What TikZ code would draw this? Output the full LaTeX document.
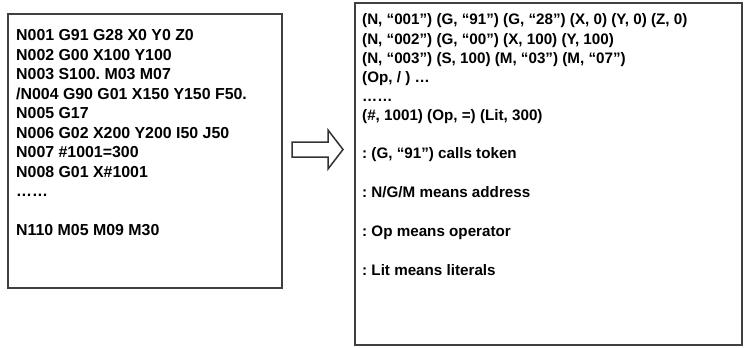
\documentclass[tikz,border=0pt]{standalone}
\usepackage{fontspec}
\setmainfont{Liberation Sans}
\frenchspacing
\begin{document}
\begin{tikzpicture}[x=1pt,y=-1pt,
  box/.style={draw=black!75,line width=1.3pt,fill=white,inner sep=0pt},
  code/.style={anchor=base west,inner sep=0pt,font=\fontsize{15.9}{15.9}\selectfont\bfseries},
  tok/.style={anchor=base west,inner sep=0pt,font=\fontsize{15.2}{15.2}\selectfont\bfseries},
  hollow/.style={draw=black!80,line width=1.5pt,fill=white,line join=miter}]
\useasboundingbox (0,0) rectangle (745,348);
\node[box,minimum width=274pt,minimum height=274pt] (src) at (145,151) {};
\node[box,minimum width=387pt,minimum height=342pt] (dst) at (548.5,174) {};
% left text
\node[code] (l1) at (16,40.5) {N001 G91 G28 X0 Y0 Z0};
\node[code] (l2) at (16,60) {N002 G00 X100 Y100};
\node[code] (l3) at (16,79.5) {N003 S100. M03 M07};
\node[code] (l4) at (16,99) {/N004 G90 G01 X150 Y150 F50.};
\node[code] (l5) at (16,118.5) {N005 G17};
\node[code] (l6) at (16,138) {N006 G02 X200 Y200 I50 J50};
\node[code] (l7) at (16,157.5) {N007 \#1001=300};
\node[code] (l8) at (16,177) {N008 G01 X\#1001};
\node[code] (l9) at (16,196.5) {……};
\node[code] (l10) at (16,235.5) {N110 M05 M09 M30};
% right text
\node[tok] (r1) at (362,24) {(N, “001”) (G, “91”) (G, “28”) (X, 0) (Y, 0) (Z, 0)};
\node[tok] (r2) at (362,44) {(N, “002”) (G, “00”) (X, 100) (Y, 100)};
\node[tok] (r3) at (362,63) {(N, “003”) (S, 100) (M, “03”) (M, “07”)};
\node[tok] (r4) at (362,82) {(Op, / ) …};
\node[tok] (r5) at (362,101) {……};
\node[tok] (r6) at (362,120) {(\#, 1001) (Op, =) (Lit, 300)};
\node[tok] (r7) at (362,158) {: (G, “91”) calls token};
\node[tok] (r8) at (362,197) {: N/G/M means address};
\node[tok] (r9) at (362,236) {: Op means operator};
\node[tok] (r10) at (362,275) {: Lit means literals};
% hollow arrow
\draw[hollow] (292,142) -- (328,142) -- (328,130) -- (343,149.5) -- (328,169) -- (328,157) -- (292,157) -- cycle;
\end{tikzpicture}
\end{document}
